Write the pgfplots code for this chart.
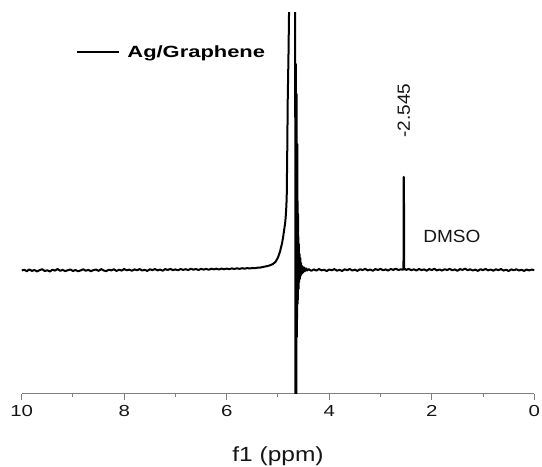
\documentclass[border=0pt]{standalone}
\usepackage{fontspec}
\setmainfont{Liberation Sans}
\newfontfamily\tickfont[FakeStretch=1.28]{Liberation Sans}
\newfontfamily\labfont[FakeStretch=1.2]{Liberation Sans}
\newfontfamily\dmsofont[FakeStretch=1.08]{Liberation Sans}
\newfontfamily\legfont[FakeStretch=1.35]{Liberation Sans}
\usepackage{pgfplots}
\pgfplotsset{compat=1.18}
\definecolor{txt}{HTML}{151515}
\definecolor{axgray}{HTML}{808080}
\begin{document}
\begin{tikzpicture}
\begin{axis}[
  scale only axis, width=512.6bp, height=381bp,
  at={(0,0)}, anchor=south west,
  x dir=reverse, xmin=0, xmax=10, ymin=0, ymax=381,
  axis x line*=bottom, hide y axis,
  x axis line style={-, draw=axgray, line width=1bp},
  xtick={0,2,4,6,8,10}, xticklabels={0,2,4,6,8,10},
  minor xtick={1,3,5,7,9},
  tick align=outside, major tick length=6bp, minor tick length=3bp,
  tick style={draw=axgray, line width=1bp},
  xticklabel style={font=\fontsize{16}{16}\tickfont, text=txt, anchor=north, inner sep=0pt, yshift=-5.5bp},
  xlabel={f1 (ppm)},
  xlabel style={font=\fontsize{20.5}{20}\labfont, text=txt, at={(axis description cs:0.5,0)}, anchor=north, inner sep=0pt, yshift=-53bp},
  legend style={draw=none, fill=none, at={(axis cs:8.94,342)}, anchor=west, inner sep=0pt, inner xsep=0pt, inner ysep=0pt,
    nodes={inner sep=0pt, text depth=0.15em}, column sep=7bp,
    font=\fontsize{16.3}{18}\legfont\bfseries, text=black},
  legend cell align=left,
  legend image code/.code={\draw[line width=2.2bp] (0bp,0bp) -- (42bp,0bp);},
]
\addplot[black, line width=2bp, line join=round] coordinates {
(10.00,123.5) (9.95,124.2) (9.90,122.8) (9.85,124.6) (9.80,123.1) (9.75,124.0) (9.70,122.6) (9.65,123.9)
(9.60,124.8) (9.55,123.0) (9.50,123.7) (9.45,122.5) (9.40,124.3) (9.35,123.4) (9.30,125.0) (9.25,123.2)
(9.20,124.1) (9.15,122.9) (9.10,123.8) (9.05,124.5) (9.00,123.0) (8.95,124.0) (8.90,122.7) (8.85,123.6)
(8.80,124.7) (8.75,123.3) (8.70,124.1) (8.65,122.8) (8.60,123.9) (8.55,124.4) (8.50,123.1) (8.45,124.9)
(8.40,123.5) (8.35,122.9) (8.30,124.2) (8.25,123.6) (8.20,124.8) (8.15,123.0) (8.10,124.3) (8.05,123.4)
(8.00,125.0) (7.95,123.7) (7.90,124.4) (7.85,123.2) (7.80,124.6) (7.75,123.8) (7.70,124.9) (7.65,123.5)
(7.60,124.2) (7.55,123.1) (7.50,124.7) (7.45,123.9) (7.40,125.0) (7.35,123.6) (7.30,124.5) (7.25,123.3)
(7.20,124.9) (7.15,124.0) (7.10,125.1) (7.05,123.8) (7.00,124.6) (6.95,123.7) (6.90,125.0) (6.85,124.1)
(6.80,124.8) (6.75,123.9) (6.70,125.2) (6.65,124.3) (6.60,125.0) (6.55,124.0) (6.50,125.1) (6.45,124.4)
(6.40,125.1) (6.35,124.2) (6.30,125.3) (6.25,124.6) (6.20,125.3) (6.15,124.5) (6.10,125.4) (6.05,124.7)
(6.00,125.4) (5.95,124.8) (5.90,125.6) (5.85,125.0) (5.80,125.7) (5.75,125.1) (5.70,125.8) (5.65,125.3)
(5.60,125.9) (5.55,125.5) (5.50,126.0) (5.45,125.8) (5.40,126.3) (5.35,126.4) (5.30,126.9) (5.25,127.5)
(5.20,128.0) (5.15,128.8) (5.10,130.0) (5.05,132.0) (5.00,136.5) (4.96,142.5) (4.92,151) (4.90,157)
(4.88,164) (4.86,171) (4.85,177) (4.84,185) (4.83,196) (4.82,240) (4.81,294) (4.795,340) (4.78,400)
(4.75,600) (4.70,650) (4.665,500) (4.660,-200) (4.652,330) (4.645,-50) (4.637,300) (4.630,57)
(4.622,250) (4.615,90) (4.607,180) (4.600,105) (4.593,150) (4.586,112) (4.579,140) (4.572,115)
(4.565,136) (4.558,118) (4.550,131) (4.540,120) (4.530,128) (4.520,121) (4.510,127) (4.500,122)
(4.490,126.5) (4.470,123) (4.450,125.5) (4.43,123.5) (4.40,124.8) (4.35,123.2) (4.30,124.6) (4.25,123.4)
(4.20,125.0) (4.15,123.6) (4.10,124.3) (4.05,122.9) (4.00,124.5) (3.95,123.7) (3.90,124.9) (3.85,123.3)
(3.80,124.2) (3.75,123.0) (3.70,124.7) (3.65,123.8) (3.60,125.0) (3.55,123.5) (3.50,124.4) (3.45,123.1)
(3.40,124.8) (3.35,123.9) (3.30,125.2) (3.25,123.6) (3.20,124.5) (3.15,123.2) (3.10,124.9) (3.05,124.0)
(3.00,125.1) (2.95,123.7) (2.90,124.6) (2.85,123.4) (2.80,125.0) (2.75,124.1) (2.70,125.3) (2.65,123.9)
(2.60,124.8) (2.57,124.2) (2.552,125) (2.548,217) (2.543,217) (2.539,124.5) (2.52,125.2) (2.50,124.0)
(2.45,125.1) (2.40,123.8) (2.35,124.7) (2.30,123.5) (2.25,125.0) (2.20,123.9) (2.15,124.6) (2.10,123.3)
(2.05,124.9) (2.00,124.0) (1.95,125.2) (1.90,123.6) (1.85,124.5) (1.80,123.4) (1.75,124.8) (1.70,123.9)
(1.65,125.1) (1.60,123.7) (1.55,124.6) (1.50,123.2) (1.45,124.9) (1.40,124.1) (1.35,125.3) (1.30,123.8)
(1.25,124.7) (1.20,123.5) (1.15,124.4) (1.10,123.1) (1.05,124.8) (1.00,123.9) (0.95,125.0) (0.90,123.6)
(0.85,124.5) (0.80,123.3) (0.75,124.7) (0.70,123.8) (0.65,124.9) (0.60,123.4) (0.55,124.3) (0.50,123.0)
(0.45,124.6) (0.40,123.7) (0.35,124.8) (0.30,123.5) (0.25,124.2) (0.20,123.1) (0.15,124.5) (0.10,123.6)
(0.05,124.4) (0.00,123.8)
};
\addlegendentry{Ag/Graphene}
\node[font=\fontsize{17.7}{18}\dmsofont, text=txt, anchor=base west, inner sep=0pt] at (axis cs:2.17,151.3) {DMSO};
\node[font=\fontsize{17.7}{18}\dmsofont, text=txt, anchor=west, inner sep=0pt, rotate=90] at (axis cs:2.545,256) {-2.545};
\end{axis}
\pgfresetboundingbox
\useasboundingbox (-21.7bp,-73bp) rectangle (520.3bp,394bp);
\end{tikzpicture}
\end{document}
